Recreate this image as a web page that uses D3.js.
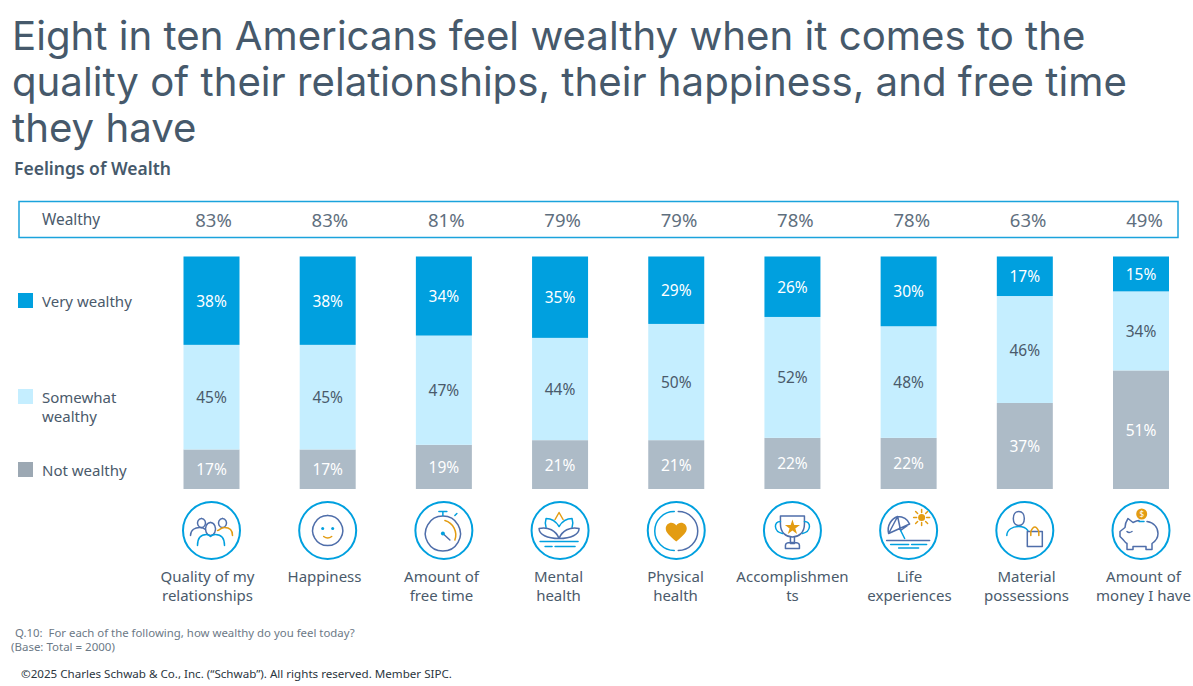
<!DOCTYPE html>
<html>
<head>
<meta charset="utf-8">
<script src="https://cdn.jsdelivr.net/npm/d3@7"></script>
<style>
html, body { margin: 0; padding: 0; background: #fff; }
svg { display: block; }
text { font-family: "Noto Sans", sans-serif; white-space: pre; }
</style>
</head>
<body>
<script>
// survey values
const categories = ["Quality of my relationships", "Happiness", "Amount of free time", "Mental health",
    "Physical health", "Accomplishments", "Life experiences", "Material possessions", "Amount of money I have"];
const categoryLines = [["Quality of my", "relationships"], ["Happiness"], ["Amount of", "free time"], ["Mental", "health"],
    ["Physical", "health"], ["Accomplishmen", "ts"], ["Life", "experiences"], ["Material", "possessions"], ["Amount of", "money I have"]];
const wealthy = [83, 83, 81, 79, 79, 78, 78, 63, 49];
const veryWealthy = [38, 38, 34, 35, 29, 26, 30, 17, 15];
const somewhatWealthy = [45, 45, 47, 44, 50, 52, 48, 46, 34];
const notWealthy = [17, 17, 19, 21, 21, 22, 22, 37, 51];
const seriesKeys = ["veryWealthy", "somewhatWealthy", "notWealthy"];
const titleLines = ["Eight in ten Americans feel wealthy when it comes to the",
    "quality of their relationships, their happiness, and free time", "they have"];

const width = 1193, height = 686;
const blue = "#00a0df", lightBlue = "#c5eeff", grey = "#adbbc7", ink = "#4a5a6b", gold = "#e39c12", navy = "#4f6eaa";

const svg = d3.select("body").append("svg").attr("width", width).attr("height", height);

// title
svg.append("g").selectAll("text").data(titleLines).enter().append("text")
    .attr("x", 12).attr("y", (d, i) => 50 + i * 46)
    .attr("font-size", 40.2).attr("fill", "#46596b")
    .style("font-family", "Inter")
    .text(d => d);

svg.append("text").attr("x", 14).attr("y", 175).attr("font-size", 17.5).attr("font-weight", 600)
    .attr("fill", "#46596b").text("Feelings of Wealth");

// scales
const x = d3.scalePoint().domain(categories).range([211.5, 1141]);
const xName = d3.scalePoint().domain(categories).range([207.5, 1143.5]);
const xTotal = d3.scalePoint().domain(categories).range([213.5, 1144.5]);
const y = d3.scaleLinear().domain([0, 100]).range([489, 256.5]);
const barWidth = 56;

// wealthy box
svg.append("rect").attr("x", 19).attr("y", 201.5).attr("width", 1159).attr("height", 36)
    .attr("fill", "none").attr("stroke", "#1ba3dc").attr("stroke-width", 1.5);
svg.append("text").attr("x", 42).attr("y", 225).attr("font-size", 15.4).attr("fill", ink).text("Wealthy");
svg.append("g").selectAll("text").data(wealthy).enter().append("text")
    .attr("x", (d, i) => xTotal(categories[i])).attr("y", 227)
    .attr("text-anchor", "middle").attr("font-size", 18.5).attr("fill", "#5f6f7e")
    .text(d => d + "%");

// stacked bars
const rows = categories.map((c, i) => ({
    category: c, veryWealthy: veryWealthy[i], somewhatWealthy: somewhatWealthy[i], notWealthy: notWealthy[i]
}));
// stack from the bottom so not wealthy sits on the baseline
const stack = d3.stack().keys(seriesKeys.slice().reverse());
const color = d3.scaleOrdinal().domain(seriesKeys).range([blue, lightBlue, grey]);
const labelColor = d3.scaleOrdinal().domain(seriesKeys).range(["#ffffff", "#4a5a6b", "#ffffff"]);

const layers = svg.append("g").selectAll("g").data(stack(rows)).enter().append("g");
layers.selectAll("rect").data(d => d).enter().append("rect")
    .attr("x", d => x(d.data.category) - barWidth / 2)
    .attr("y", d => y(d[1]))
    .attr("width", barWidth)
    .attr("height", d => y(d[0]) - y(d[1]))
    .attr("fill", function () { return color(d3.select(this.parentNode).datum().key); });
layers.selectAll("text").data(d => d).enter().append("text")
    .attr("x", d => x(d.data.category))
    .attr("y", d => (y(d[0]) + y(d[1])) / 2 + 6)
    .attr("text-anchor", "middle").attr("font-size", 15.5)
    .attr("fill", function () { return labelColor(d3.select(this.parentNode).datum().key); })
    .text(d => (d[1] - d[0]) + "%");

// legend
const legendLabels = [["Very wealthy"], ["Somewhat", "wealthy"], ["Not wealthy"]];
const legendColors = [blue, lightBlue, "#9ca8b3"];
const legendY = [293, 389, 462];
const legend = svg.append("g").selectAll("g").data(legendLabels).enter().append("g")
    .attr("transform", (d, i) => `translate(18, ${legendY[i]})`);
legend.append("rect").attr("width", 15).attr("height", 15).attr("fill", (d, i) => legendColors[i]);
legend.selectAll("text").data(d => d).enter().append("text")
    .attr("x", 24).attr("y", (d, i) => 13.5 + i * 19)
    .attr("font-size", 15).attr("fill", ink).text(d => d);

// category names
const names = svg.append("g").selectAll("g").data(categoryLines).enter().append("g");
names.selectAll("text").data((d, i) => d.map(s => ({ s, c: categories[i] }))).enter().append("text")
    .attr("x", d => xName(d.c)).attr("y", (d, i) => 582 + i * 19)
    .attr("text-anchor", "middle").attr("font-size", 15).attr("fill", ink).text(d => d.s);

// icons, each drawn around its own circle centre
const iconY = 530.5;
function line(g, d, col, w) {
    return g.append("path").attr("d", d).attr("fill", "none").attr("stroke", col).attr("stroke-width", w || 1.5)
        .attr("stroke-linecap", "round").attr("stroke-linejoin", "round");
}
const iconDraw = [
    g => { // people
        line(g, "M-10,-12a4,4.5 0 1 0 .01,0", navy);
        line(g, "M-1,-8a5,6.5 0 1 0 .01,0", navy);
        line(g, "M11,-12a4,4.5 0 1 0 .01,0", navy);
        line(g, "M-21,5c0,-6 5,-8 9,-8c3,0 5,1 6,2", navy);
        line(g, "M-14,15c0,-8 4,-11 9,-11c2,0 3,1 4,2c1,-1 3,-2 5,-2c6,0 9,4 9,11", blue);
        line(g, "M6,0c2,0 3,-3 7,-3c5,0 8,3 8,8", gold);
    },
    g => { // face
        line(g, "M0,-15a15,15 0 1 0 .01,0", navy);
        g.append("circle").attr("cx", -5).attr("cy", -2).attr("r", 1.5).attr("fill", blue);
        g.append("circle").attr("cx", 5).attr("cy", -2).attr("r", 1.5).attr("fill", blue);
        line(g, "M-4,6q4,3 8,0", gold);
    },
    g => { // stopwatch
        line(g, "M-1,-14.5a17.5,17.5 0 1 0 .01,0", navy);
        line(g, "M-5,-19h8M-1,-19v4M11,-15l2,-2", blue);
        line(g, "M1,-10a15,15 0 0 1 10,19.5", gold);
        line(g, "M-1,3l7,6.5", navy);
        g.append("circle").attr("cx", -1).attr("cy", 3).attr("r", 2).attr("fill", blue);
    },
    g => { // lotus
        line(g, "M-5,-11l4,-7l4,7", gold);
        line(g, "M-14,-3c-1,-3 -1,-6 0,-9c6,0 10,3 13,8c3,-5 7,-8 13,-8c1,3 1,6 0,9", blue);
        line(g, "M-21,-2c9,-2 17,2 20,10c3,-8 11,-12 20,-10c0,6 -8,10 -20,10c-12,0 -20,-4 -20,-10z", navy);
        line(g, "M-20,11h38", blue);
        line(g, "M-15,16h7M-5,16h20", blue);
    },
    g => { // heart
        line(g, "M2,-19a19.5,19.5 0 0 1 0,39", navy);
        line(g, "M-2,20a19.5,19.5 0 0 1 0,-39", blue);
        g.append("path").attr("d", "M0,11c-7,-6 -10.5,-9 -10.5,-13c0,-6 7.5,-8 10.5,-3c3,-5 10.5,-3 10.5,3c0,4 -3.5,7 -10.5,13z").attr("fill", gold);
    },
    g => { // trophy
        line(g, "M-12,-14.5h24v8c0,9 -6,13 -12,13c-6,0 -12,-4 -12,-13z", navy);
        line(g, "M-12,-9c-7,0 -7,10 2,12M12,-9c7,0 7,10 -2,12", blue);
        line(g, "M-2,7v6h4v-6M-7,18v-3q0,-3 5,-3h4q5,0 5,3v3z", navy);
        g.append("path").attr("d", d3.symbol().type(d3.symbolStar).size(70)()).attr("transform", "translate(0,-3)").attr("fill", gold);
    },
    g => { // beach
        line(g, "M-20,3c-2,-8 3,-15 9,-17c6,0 10,3 12,7.5zM-20,3l9,-17M-11,-14l3,14M-8,0l9,-6.5", navy);
        line(g, "M-8,0l4,8", blue);
        line(g, "M-22,10h43", navy);
        line(g, "M-18,14h18M3,14h15M-10,17.5h20", blue);
        g.append("circle").attr("cx", 13).attr("cy", -13).attr("r", 3.5).attr("fill", gold);
        line(g, "M13,-21v3M13,-8v3M5,-13h3M18,-13h3M7,-19l2,2M17,-9l2,2M19,-19l-2,2M9,-9l-2,2", gold);
    },
    g => { // person with bag
        line(g, "M-6,-19c3.5,0 5.5,3 5.5,7c0,4 -2,7 -5.5,7c-3.5,0 -5.5,-3 -5.5,-7c0,-4 2,-7 5.5,-7z", navy);
        line(g, "M-18,5c0,-6 6,-9 12,-9c3,0 7,1 9,4", blue);
        line(g, "M2.5,1h15v15h-15z", navy);
        line(g, "M6,5v-4q4,-9 8,0v4", gold);
    },
    g => { // piggy bank
        g.append("circle").attr("cx", 0.7).attr("cy", -16.5).attr("r", 5.5).attr("fill", gold);
        g.append("text").attr("x", 0.7).attr("y", -13.5).attr("text-anchor", "middle").attr("font-size", 8).attr("fill", "#fff").text("$");
        line(g, "M-2,-9h5", blue);
        line(g, "M6,-9C13,-8 17,-3 17,3C17,8 14,11 11,13V19H5V16H-8V19H-14V13C-16,12 -17,10 -18,9L-21,6V1L-16,-3C-16,-6 -15,-9 -13,-12L-8,-8C-6,-9 -4,-10 -2,-10", navy);
        line(g, "M-14,1q2,2 5,0", navy);
    }
];
const icons = svg.append("g").selectAll("g").data(categories).enter().append("g")
    .attr("transform", d => `translate(${x(d)}, ${iconY})`);
icons.append("circle").attr("r", 28.5).attr("fill", "#fff").attr("stroke", blue).attr("stroke-width", 2);
icons.each(function (d, i) { iconDraw[i](d3.select(this)); });

// footnotes
svg.append("text").attr("x", 15).attr("y", 637).attr("font-size", 11.4).attr("fill", "#6c7986")
    .text("Q.10:  For each of the following, how wealthy do you feel today?");
svg.append("text").attr("x", 11).attr("y", 651).attr("font-size", 11.5).attr("fill", "#6c7986")
    .text("(Base: Total = 2000)");
svg.append("text").attr("x", 21).attr("y", 678).attr("font-size", 11.6).attr("fill", "#2b3640")
    .text("©2025 Charles Schwab & Co., Inc. (“Schwab”). All rights reserved. Member SIPC.");
</script>
</body>
</html>
